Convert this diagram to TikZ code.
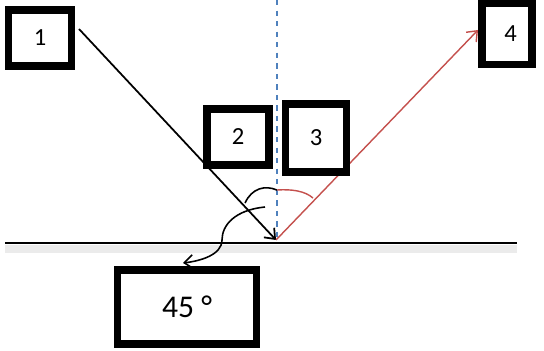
\documentclass[tikz,border=0pt]{standalone}
\usepackage{fontspec}
\setmainfont{Carlito}
\usepackage{tikz}
\usetikzlibrary{arrows.meta}
\usepackage{xcolor}

\definecolor{raycol}{RGB}{196,80,77}
\definecolor{normcol}{RGB}{79,129,189}
\tikzset{
  labelbox/.style={draw=black,line width=4pt,fill=white,minimum width=1.15cm,minimum height=1.05cm,inner sep=0pt,font=\fontsize{14}{16}\selectfont},
}

\begin{document}
\begin{tikzpicture}[>={Straight Barb[length=5pt,width=8pt]},x=0.02cm,y=-0.02cm]
\useasboundingbox (0,0) rectangle (544,351);
% mirror surface with its shadow
\fill[black!8] (5,245) rectangle (517,253);
\draw[line width=1pt] (5,243)--(517,243);
\coordinate (o) at (276,240);
\coordinate (normtop) at (277,0);
\coordinate (inc) at (79,29);
\coordinate (refl) at (478,30);
\coordinate (tip) at (183,263);
% normal and rays
\draw[normcol,dashed,line width=0.8pt] (normtop)--(277,238);
\draw[->,line width=1pt] (inc)--(o);
\draw[->,raycol,line width=0.8pt] (o)--(refl);
% angle arcs
\draw[line width=0.9pt] (245,203) .. controls (252,188) and (265,185) .. (277,190);
\draw[raycol,line width=0.8pt] (277,190) .. controls (292,189) and (305,191) .. (313,198);
% boxes
\node[labelbox,minimum width=1.26cm,minimum height=1.12cm] (b1) at (40,38) {\raisebox{-3pt}{1}};
\node[labelbox,minimum width=1.24cm,minimum height=1.12cm] (b2) at (238,137) {\raisebox{-3pt}{2}};
\node[labelbox,minimum width=1.22cm,minimum height=1.36cm] (b3) at (316,138) {3};
\node[labelbox,minimum width=1cm,minimum height=1.22cm] (b4) at (507,34) {\hspace{4pt}4};
\node[labelbox,minimum width=2.78cm,minimum height=1.48cm,font=\fontsize{18}{20}\selectfont] (b5) at (187,307) {45 °\hspace{14pt}};
% pointer to the angle
\draw[->,line width=0.9pt] (265,207) .. controls (235,210) and (222,225) .. (222,240) .. controls (222,255) and (200,261) .. (tip);
\end{tikzpicture}
\end{document}
